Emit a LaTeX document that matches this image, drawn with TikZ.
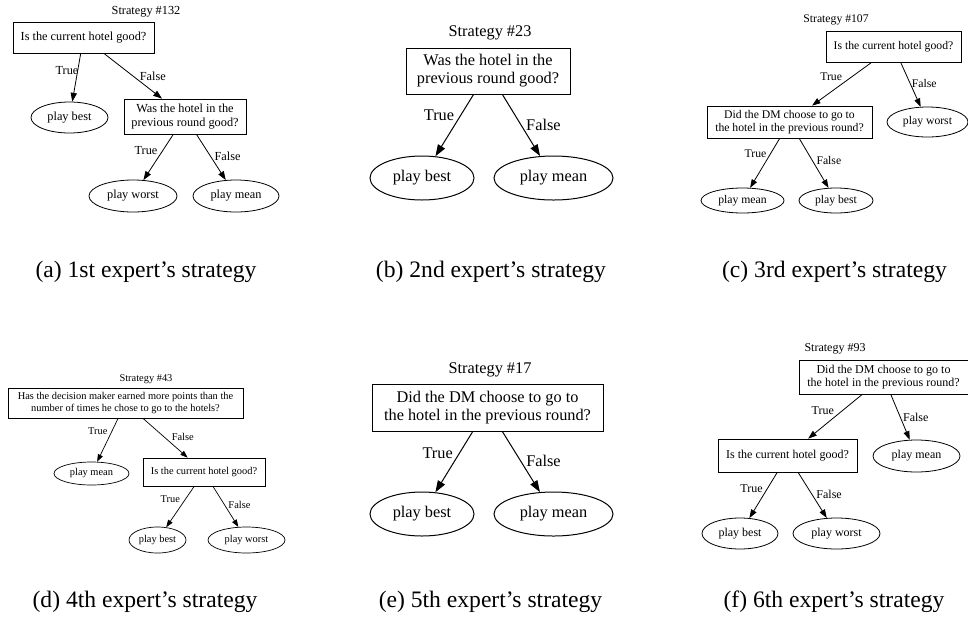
\documentclass[tikz,border=0pt]{standalone}
\usepackage{fontspec}
\setmainfont{Liberation Serif}
\usetikzlibrary{shapes.geometric, arrows.meta}

\begin{document}
\begin{tikzpicture}[x=1pt, y=-1pt,
        question/.style={rectangle, draw, align=center, inner sep=0pt},
        action/.style={ellipse, draw, inner sep=0pt},
        branch_label/.style={inner sep=0pt},
        caption/.style={font=\fontsize{23.6}{26}\selectfont}
    ]
        \useasboundingbox (0,0) rectangle (968,622);

        % Panel (a): strategy #132
        \begin{scope}[font=\fontsize{12.3}{13.2}\selectfont, line width=0.8pt, >={Triangle[length=8.8pt, width=6.2pt]}]
        \node (a_title) at (146,12) {Strategy \#132};
        \node[question, minimum width=141pt, minimum height=31pt] (a_root) at (83.5,37.5) {Is the current hotel good?};
        \node[action, minimum width=77pt, minimum height=31pt] (a_best) at (69.5,117.5) {play best};
        \node[question, minimum width=122pt, minimum height=35pt] (a_prev) at (185,116.5) {Was the hotel in the\\previous round good?};
        \node[action, minimum width=88pt, minimum height=32pt] (a_worst) at (133,196) {play worst};
        \node[action, minimum width=86pt, minimum height=32pt] (a_mean) at (236,196) {play mean};
        \draw[->] (a_root) -- (a_best) node[branch_label, pos=0.35, left=-1pt] {True};
        \draw[->] (a_root) -- (a_prev) node[branch_label, pos=0.5, right=6.5pt] {False};
        \draw[->] (a_prev) -- (a_worst) node[branch_label, pos=0.35, left=5pt] {True};
        \draw[->] (a_prev) -- (a_mean) node[branch_label, pos=0.48, right=3.6pt] {False};
        \end{scope}
        \node[caption] (a_caption) at (146,272) {(a) 1st expert's strategy};

        % Panel (b): strategy #23
        \begin{scope}[font=\fontsize{16.3}{17.9}\selectfont, line width=1pt, >={Triangle[length=11.6pt, width=8.1pt]}]
        \node (b_title) at (490,33) {Strategy \#23};
        \node[question, minimum width=164pt, minimum height=46pt] (b_root) at (488,71) {Was the hotel in the\\previous round good?};
        \node[action, minimum width=104pt, minimum height=44pt] (b_best) at (422,178) {play best};
        \node[action, minimum width=119pt, minimum height=44pt] (b_mean) at (553.5,178) {play mean};
        \draw[->] (b_root) -- (b_best) node[branch_label, pos=0.34, left=6pt] {True};
        \draw[->] (b_root) -- (b_mean) node[branch_label, pos=0.5, right=4.5pt] {False};
        \end{scope}
        \node[caption] (b_caption) at (491,272) {(b) 2nd expert's strategy};

        % Panel (c): strategy #107
        \begin{scope}[font=\fontsize{11.7}{12.4}\selectfont, line width=0.8pt, >={Triangle[length=8.4pt, width=5.9pt]}]
        \node (c_title) at (836,20) {Strategy \#107};
        \node[question, minimum width=135pt, minimum height=31pt] (c_root) at (893.5,46.5) {Is the current hotel good?};
        \node[question, minimum width=165pt, minimum height=32pt] (c_went) at (789.5,122) {Did the DM choose to go to\\the hotel in the previous round?};
        \node[action, minimum width=81pt, minimum height=30pt] (c_worst) at (927.5,122) {play worst};
        \node[action, minimum width=83pt, minimum height=25pt] (c_mean) at (742.5,200.5) {play mean};
        \node[action, minimum width=74pt, minimum height=25pt] (c_best) at (836,200.5) {play best};
        \draw[->] (c_root) -- (c_went) node[branch_label, pos=0.34, left=9pt] {True};
        \draw[->] (c_root) -- (c_worst) node[branch_label, pos=0.47, right=1.5pt] {False};
        \draw[->] (c_went) -- (c_mean) node[branch_label, pos=0.32, left=3.5pt] {True};
        \draw[->] (c_went) -- (c_best) node[branch_label, pos=0.44, right=4pt] {False};
        \end{scope}
        \node[caption] (c_caption) at (834.5,272) {(c) 3rd expert's strategy};

        % Panel (d): strategy #43
        \begin{scope}[font=\fontsize{10.4}{11.2}\selectfont, line width=0.7pt, >={Triangle[length=7.4pt, width=5.2pt]}]
        \node (d_title) at (146,379) {Strategy \#43};
        \node[question, minimum width=235pt, minimum height=30pt] (d_root) at (125.5,403) {Has the decision maker earned more points than the\\number of times he chose to go to the hotels?};
        \node[action, minimum width=75pt, minimum height=23pt] (d_mean) at (91.5,473.5) {play mean};
        \node[question, minimum width=122pt, minimum height=28pt] (d_good) at (204,472) {Is the current hotel good?};
        \node[action, minimum width=57pt, minimum height=26pt] (d_best) at (157.5,540) {play best};
        \node[action, minimum width=77pt, minimum height=26pt] (d_worst) at (246.5,540) {play worst};
        \draw[->] (d_root) -- (d_mean) node[branch_label, pos=0.3, left=4pt] {True};
        \draw[->] (d_root) -- (d_good) node[branch_label, pos=0.47, right=7.5pt] {False};
        \draw[->] (d_good) -- (d_best) node[branch_label, pos=0.32, left=5pt] {True};
        \draw[->] (d_good) -- (d_worst) node[branch_label, pos=0.46, right=3.5pt] {False};
        \end{scope}
        \node[caption] (d_caption) at (145,602) {(d) 4th expert's strategy};

        % Panel (e): strategy #17
        \begin{scope}[font=\fontsize{16.3}{18.5}\selectfont, line width=1pt, >={Triangle[length=11.6pt, width=8.1pt]}]
        \node (e_title) at (490,370) {Strategy \#17};
        \node[question, minimum width=231pt, minimum height=47pt] (e_root) at (487.5,407.5) {Did the DM choose to go to\\the hotel in the previous round?};
        \node[action, minimum width=104pt, minimum height=44pt] (e_best) at (422,514) {play best};
        \node[action, minimum width=119pt, minimum height=44pt] (e_mean) at (553.5,514) {play mean};
        \draw[->] (e_root) -- (e_best) node[branch_label, pos=0.36, left=6pt] {True};
        \draw[->] (e_root) -- (e_mean) node[branch_label, pos=0.49, right=5pt] {False};
        \end{scope}
        \node[caption] (e_caption) at (490.5,602) {(e) 5th expert's strategy};

        % Panel (f): strategy #93
        \begin{scope}[font=\fontsize{12}{12.4}\selectfont, line width=0.8pt, >={Triangle[length=8.6pt, width=6pt]}]
        \node (f_title) at (835,349) {Strategy \#93};
        \node[question, minimum width=169pt, minimum height=34pt] (f_root) at (883.5,377) {Did the DM choose to go to\\the hotel in the previous round?};
        \node[question, minimum width=139pt, minimum height=33pt] (f_good) at (787.5,455.5) {Is the current hotel good?};
        \node[action, minimum width=87pt, minimum height=32pt] (f_mean) at (916.5,456) {play mean};
        \node[action, minimum width=76pt, minimum height=31pt] (f_best) at (740,533.5) {play best};
        \node[action, minimum width=87pt, minimum height=31pt] (f_worst) at (836.5,533.5) {play worst};
        \draw[->] (f_root) -- (f_good) node[branch_label, pos=0.36, left=8.5pt] {True};
        \draw[->] (f_root) -- (f_mean) node[branch_label, pos=0.5, right=2.5pt] {False};
        \draw[->] (f_good) -- (f_best) node[branch_label, pos=0.35, left=4.5pt] {True};
        \draw[->] (f_good) -- (f_worst) node[branch_label, pos=0.48, right=4.2pt] {False};
        \end{scope}
        \node[caption] (f_caption) at (834,602) {(f) 6th expert's strategy};

    \end{tikzpicture}
\end{document}
